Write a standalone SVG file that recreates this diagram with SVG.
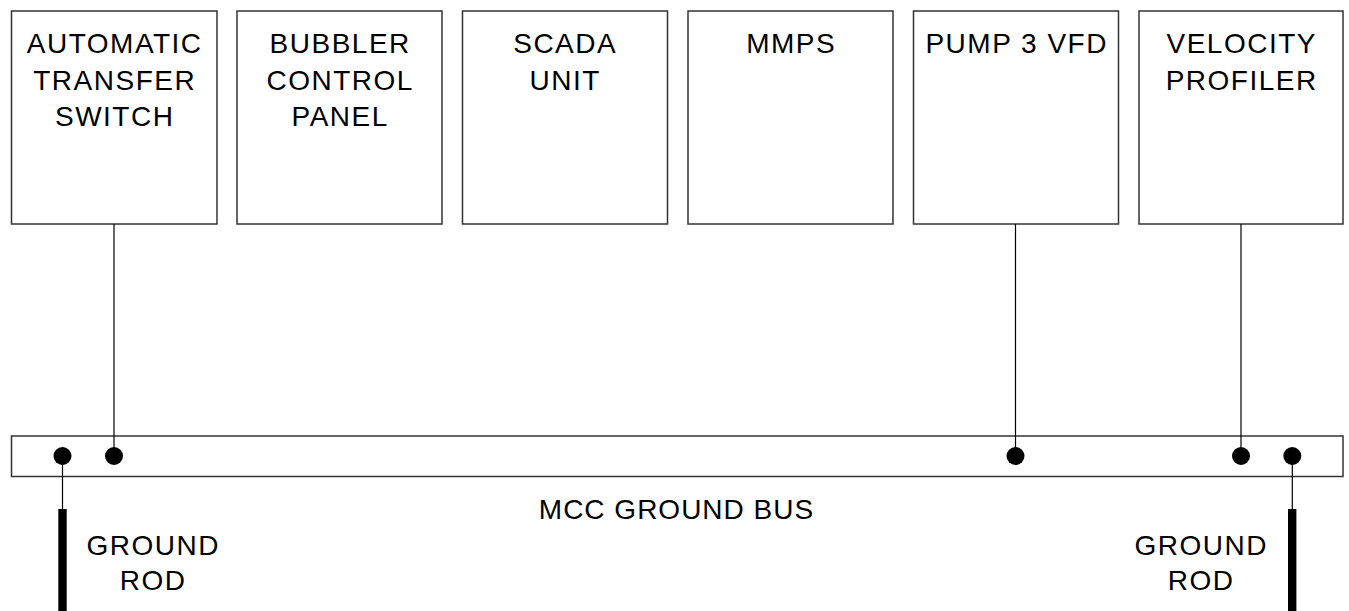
<svg xmlns="http://www.w3.org/2000/svg" width="1349" height="611" viewBox="0 0 1349 611">
<style>
.box{fill:#fff;stroke:#333;stroke-width:1.5}
.t{font-family:"Liberation Sans",Arial,sans-serif;font-size:28px;letter-spacing:1.5px;fill:#000;text-anchor:middle}
.w{stroke:#000;stroke-width:1.2;fill:none}
.dot{fill:#000}
.rod{fill:#000}
</style>
<rect width="1349" height="611" fill="#fff"/>
<g id="ats"><rect class="box" x="11.5" y="11" width="205.5" height="213"/>
<text class="t" x="114.7" y="53">AUTOMATIC</text><text class="t" x="114.7" y="89.5">TRANSFER</text><text class="t" x="114.7" y="126">SWITCH</text></g>
<g id="bubbler"><rect class="box" x="237" y="11" width="205" height="213"/>
<text class="t" x="340.2" y="53">BUBBLER</text><text class="t" x="340.2" y="89.5">CONTROL</text><text class="t" x="340.2" y="126">PANEL</text></g>
<g id="scada"><rect class="box" x="462.5" y="11" width="205" height="213"/>
<text class="t" x="565.2" y="53">SCADA</text><text class="t" x="565.2" y="89.5">UNIT</text></g>
<g id="mmps"><rect class="box" x="688" y="11" width="205" height="213"/>
<text class="t" x="791.2" y="53">MMPS</text></g>
<g id="pump3vfd"><rect class="box" x="913.5" y="11" width="205" height="213"/>
<text class="t" x="1016.7" y="53">PUMP 3 VFD</text></g>
<g id="velocity"><rect class="box" x="1139" y="11" width="204" height="213"/>
<text class="t" x="1241.7" y="53">VELOCITY</text><text class="t" x="1241.7" y="89.5">PROFILER</text></g>
<g id="bus"><rect class="box" x="11.5" y="436" width="1331.5" height="40.5"/>
<text class="t" x="676.5" y="519" style="letter-spacing:1px">MCC GROUND BUS</text></g>
<g id="rod-left"><rect class="rod" x="58.3" y="509" width="8.4" height="102"/>
<text class="t" x="153.2" y="555">GROUND</text><text class="t" x="153.2" y="590">ROD</text></g>
<g id="rod-right"><rect class="rod" x="1288" y="509" width="8.4" height="102"/>
<text class="t" x="1201.2" y="555">GROUND</text><text class="t" x="1201.2" y="590">ROD</text></g>
<g id="connectors">
<line class="w" x1="114" y1="224" x2="114" y2="456"/>
<line class="w" x1="1015.5" y1="224" x2="1015.5" y2="456"/>
<line class="w" x1="1241" y1="224" x2="1241" y2="456"/>
<line class="w" x1="62.5" y1="456" x2="62.5" y2="510"/>
<line class="w" x1="1292.3" y1="456" x2="1292.3" y2="510"/>
<circle class="dot" cx="62.5" cy="456" r="9"/>
<circle class="dot" cx="114" cy="456" r="9"/>
<circle class="dot" cx="1015.5" cy="456" r="9"/>
<circle class="dot" cx="1241" cy="456" r="9"/>
<circle class="dot" cx="1292.3" cy="456" r="9"/>
</g>
</svg>
